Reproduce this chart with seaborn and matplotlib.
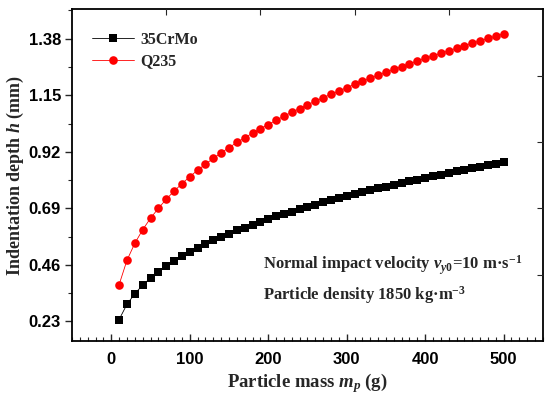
import matplotlib
matplotlib.use("Agg")
import matplotlib.pyplot as plt
import seaborn as sns
import pandas as pd
from matplotlib.ticker import MultipleLocator, FixedLocator, NullFormatter

sns.set_theme(style="white")
plt.rcParams['font.family'] = ['Liberation Serif', 'DejaVu Serif']
plt.rcParams['mathtext.fontset'] = 'custom'
plt.rcParams['mathtext.rm'] = 'Liberation Serif:bold'
plt.rcParams['mathtext.it'] = 'Liberation Serif:bold:italic'
plt.rcParams['mathtext.bf'] = 'Liberation Serif:bold'

mass = [10, 20, 30, 40, 50, 60, 70, 80, 90, 100,
        110, 120, 130, 140, 150, 160, 170, 180, 190, 200,
        210, 220, 230, 240, 250, 260, 270, 280, 290, 300,
        310, 320, 330, 340, 350, 360, 370, 380, 390, 400,
        410, 420, 430, 440, 450, 460, 470, 480, 490, 500]

depth_35crmo = [0.238, 0.300, 0.343, 0.378, 0.407, 0.432, 0.455, 0.476, 0.495, 0.513,
                0.529, 0.545, 0.560, 0.574, 0.587, 0.600, 0.612, 0.624, 0.635, 0.646,
                0.657, 0.667, 0.677, 0.686, 0.696, 0.705, 0.714, 0.723, 0.731, 0.739,
                0.748, 0.756, 0.764, 0.771, 0.778, 0.786, 0.793, 0.800, 0.807, 0.814,
                0.821, 0.827, 0.834, 0.840, 0.847, 0.853, 0.859, 0.865, 0.871, 0.877]

depth_q235 = [0.380, 0.479, 0.548, 0.603, 0.650, 0.690, 0.727, 0.760, 0.790, 0.819,
              0.845, 0.870, 0.893, 0.916, 0.937, 0.958, 0.977, 0.996, 1.014, 1.031,
              1.048, 1.065, 1.081, 1.096, 1.111, 1.126, 1.140, 1.154, 1.167, 1.181,
              1.194, 1.207, 1.219, 1.231, 1.243, 1.255, 1.266, 1.278, 1.289, 1.300,
              1.310, 1.321, 1.331, 1.341, 1.352, 1.362, 1.371, 1.381, 1.390, 1.400]

x_ticks = [0, 100, 200, 300, 400, 500]
y_ticks = [0.23, 0.46, 0.69, 0.92, 1.15, 1.38]
y_tick_labels = ["0.23", "0.46", "0.69", "0.92", "1.15", "1.38"]

fig = plt.figure(figsize=(5.5, 3.99), dpi=100)
pos = [0.131, 0.145, 0.856, 0.832]
ax = fig.add_axes(pos)

sns.lineplot(x=mass, y=depth_35crmo, color="black", marker="s", markersize=5.2,
             markeredgewidth=0, linewidth=0.6, label="35CrMo", ax=ax)
sns.lineplot(x=mass, y=depth_q235, color="#ff0000", marker="o", markersize=6.2,
             markeredgewidth=0, linewidth=0.6, label="Q235", ax=ax)

ax.set_xlim(-50, 550)
ax.set_ylim(0.15, 1.5)
ax.set_xticks(x_ticks)
ax.xaxis.set_minor_locator(MultipleLocator(10))
ax.set_yticks(y_ticks)
ax.set_yticklabels(y_tick_labels)
ax.yaxis.set_minor_locator(MultipleLocator(0.115))

for lab in ax.get_xticklabels() + ax.get_yticklabels():
    lab.set_fontfamily(['Liberation Sans', 'DejaVu Sans'])
    lab.set_fontweight('bold')
    lab.set_fontsize(12)
    lab.set_color('black')

ax.tick_params(axis='x', which='major', direction='in', length=5, width=1, bottom=True, pad=8)
ax.tick_params(axis='x', which='minor', direction='in', length=3, width=0.8, bottom=True)
ax.tick_params(axis='y', which='major', direction='out', length=5, width=1, left=True, pad=3)
ax.tick_params(axis='y', which='minor', direction='out', length=3, width=0.8, left=True)

for s in ax.spines.values():
    s.set_linewidth(1.3)
    s.set_color('black')

ax.set_xlabel(r"Particle mass $m_p$ (g)", fontsize=13.5, fontweight='bold', labelpad=3)
ax.set_ylabel(r"Indentation depth $h$ (mm)", fontsize=13, fontweight='bold', labelpad=2)

leg = ax.legend(loc='upper left', bbox_to_anchor=(0.012, 0.975), frameon=False,
                handlelength=2.6, handletextpad=0.4, labelspacing=0.35,
                prop={'family': 'Liberation Serif', 'weight': 'bold', 'size': 11.5})

ax.text(0.405, 0.229, r"Normal impact velocity $v_{y0}$=10 m·s$^{-1}$",
        transform=ax.transAxes, fontsize=12, fontweight='bold', va='center')
ax.text(0.405, 0.139, r"Particle density 1850 kg·m$^{-3}$",
        transform=ax.transAxes, fontsize=12, fontweight='bold', va='center')

# top/right ticks dividing the frame into equal parts
ax2 = fig.add_axes(pos, frameon=False)
ax2.set_xlim(0, 1)
ax2.set_ylim(0, 1)
ax2.xaxis.set_major_locator(FixedLocator([0.2, 0.4, 0.6, 0.8]))
ax2.yaxis.set_major_locator(FixedLocator([0.2, 0.4, 0.6, 0.8]))
ax2.xaxis.set_major_formatter(NullFormatter())
ax2.yaxis.set_major_formatter(NullFormatter())
ax2.tick_params(top=True, bottom=False, left=False, right=True, direction='in',
                length=4, width=0.8, labeltop=False, labelright=False,
                labelbottom=False, labelleft=False)
ax2.patch.set_alpha(0)

fig.savefig("out.png", dpi=100)
